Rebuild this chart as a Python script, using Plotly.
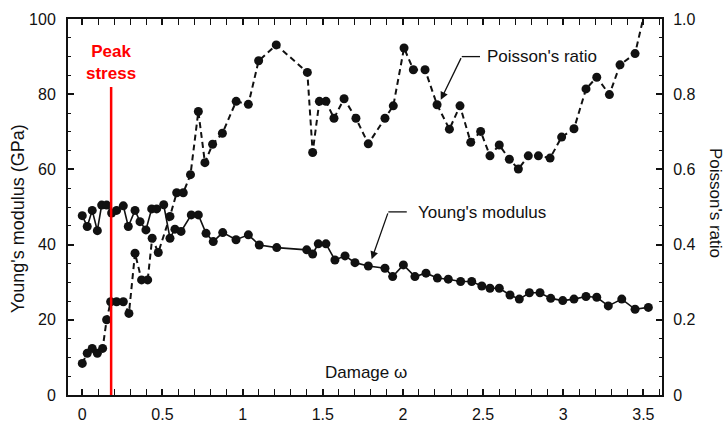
import plotly.graph_objects as go

# Young's modulus (GPa) versus damage
young_damage = [0, 0.031, 0.062, 0.094, 0.121, 0.152, 0.183, 0.214, 0.256, 0.287,
                0.329, 0.36, 0.397, 0.433, 0.464, 0.508, 0.547, 0.578, 0.616, 0.68,
                0.724, 0.772, 0.817, 0.876, 0.959, 1.036, 1.104, 1.213, 1.4, 1.437,
                1.472, 1.52, 1.576, 1.639, 1.701, 1.784, 1.888, 1.936, 2.003, 2.075,
                2.144, 2.215, 2.283, 2.36, 2.429, 2.492, 2.543, 2.601, 2.668, 2.726,
                2.789, 2.855, 2.922, 2.997, 3.067, 3.142, 3.209, 3.281, 3.365, 3.448,
                3.531]
young_modulus = [47.7, 44.8, 49.1, 43.7, 50.5, 50.5, 48.4, 49.1, 50.3, 44.8,
                 49.1, 46.1, 43.9, 49.5, 49.5, 50.6, 41.7, 44.1, 43.5, 47.9,
                 47.9, 43.0, 40.8, 43.2, 41.3, 42.6, 39.9, 39.2, 38.6, 37.5,
                 40.2, 40.2, 35.9, 37.0, 35.2, 34.3, 33.7, 31.5, 34.6, 31.5,
                 32.4, 31.1, 30.8, 30.2, 30.2, 29.0, 28.4, 28.4, 26.6, 25.5,
                 27.2, 27.2, 25.7, 25.1, 25.5, 26.2, 26.0, 23.7, 25.5, 22.8,
                 23.3]

# Poisson's ratio versus damage
poisson_damage = [0, 0.031, 0.062, 0.094, 0.127, 0.152, 0.177, 0.214, 0.256, 0.291,
                  0.329, 0.37, 0.408, 0.436, 0.474, 0.547, 0.589, 0.63, 0.675, 0.724,
                  0.765, 0.813, 0.874, 0.96, 1.036, 1.1, 1.21, 1.404, 1.437, 1.479,
                  1.52, 1.57, 1.633, 1.707, 1.784, 1.888, 1.94, 2.007, 2.065, 2.138,
                  2.213, 2.29, 2.356, 2.423, 2.485, 2.543, 2.601, 2.664, 2.72, 2.782,
                  2.845, 2.918, 2.99, 3.067, 3.142, 3.209, 3.288, 3.354, 3.448, 3.52]
poisson_ratio = [0.084, 0.111, 0.124, 0.111, 0.124, 0.2, 0.248, 0.248, 0.248, 0.217,
                 0.377, 0.306, 0.306, 0.417, 0.379, 0.475, 0.538, 0.538, 0.586, 0.754,
                 0.618, 0.667, 0.696, 0.781, 0.773, 0.889, 0.931, 0.858, 0.645, 0.781,
                 0.781, 0.736, 0.788, 0.736, 0.668, 0.736, 0.769, 0.923, 0.865, 0.865,
                 0.772, 0.707, 0.769, 0.672, 0.701, 0.636, 0.665, 0.627, 0.601, 0.636,
                 0.636, 0.63, 0.686, 0.708, 0.814, 0.845, 0.799, 0.878, 0.908, 1.04]

peak_stress_damage = 0.18

x_ticks = [0, 0.5, 1, 1.5, 2, 2.5, 3, 3.5]
x_tick_text = ["0", "0.5", "1", "1.5", "2", "2.5", "3", "3.5"]
y_ticks = [0, 20, 40, 60, 80, 100]
y2_ticks = [0, 0.2, 0.4, 0.6, 0.8, 1.0]
y2_tick_text = ["0", "0.2", "0.4", "0.6", "0.8", "1.0"]

FONT = "Liberation Sans, Arial, Helvetica, sans-serif"
INK = "#111111"

fig = go.Figure()

fig.add_trace(go.Scatter(
    x=young_damage, y=young_modulus, mode="lines+markers",
    line=dict(color=INK, width=1.6),
    marker=dict(color=INK, size=9),
    yaxis="y", showlegend=False, cliponaxis=True,
))

fig.add_trace(go.Scatter(
    x=poisson_damage, y=poisson_ratio, mode="lines+markers",
    line=dict(color=INK, width=2, dash="6px,4px"),
    marker=dict(color=INK, size=9),
    yaxis="y2", showlegend=False, cliponaxis=True,
))

axis_common = dict(
    showgrid=False, zeroline=False, showline=True, linecolor=INK, linewidth=2,
    ticks="inside", tickcolor=INK, tickwidth=1.5, ticklen=6, automargin=False,
    tickfont=dict(family=FONT, size=16, color=INK),
)

fig.update_layout(
    width=726, height=423,
    margin=dict(l=68, r=64, t=19, b=28, autoexpand=False),
    paper_bgcolor="white", plot_bgcolor="white",
    font=dict(family=FONT, color=INK),
    xaxis=dict(
        **axis_common, range=[-0.089, 3.616], tickvals=x_ticks, ticktext=x_tick_text,
        mirror="allticks", ticklabelstandoff=4,
        minor=dict(dtick=0.1, tick0=0, ticks="inside", ticklen=3, tickcolor=INK, tickwidth=1.2),
    ),
    yaxis=dict(
        **axis_common, range=[0, 100], tickvals=y_ticks, mirror=True,
        ticklabelstandoff=7,
        minor=dict(dtick=5, tick0=0, ticks="inside", ticklen=3, tickcolor=INK, tickwidth=1.2),
    ),
    yaxis2=dict(
        **axis_common, range=[0, 1], tickvals=y2_ticks, ticktext=y2_tick_text,
        overlaying="y", side="right", ticklabelstandoff=6,
        minor=dict(dtick=0.05, tick0=0, ticks="inside", ticklen=3, tickcolor=INK, tickwidth=1.2),
    ),
)

# Peak-stress marker line
fig.add_shape(type="line", xref="x", yref="y",
              x0=peak_stress_damage, x1=peak_stress_damage, y0=0, y1=81.9,
              line=dict(color="#ff0000", width=2.5))
fig.add_annotation(xref="x", yref="y", x=peak_stress_damage, y=88.5,
                   text="<b>Peak<br>stress</b>", showarrow=False,
                   font=dict(family="Liberation Sans Narrow, " + FONT, size=17, color="#ff0000"),
                   align="center")

# Series labels with bent leader lines
leaders = [
    # (text, text x, text y, horizontal end x, bend x, bend y, tip x, tip y)
    ("Poisson's ratio", 2.51, 90.05, 2.481, 2.367, 90.0, 2.236, 78.5),
    ("Young's modulus", 2.082, 48.5, 2.024, 1.909, 48.7, 1.805, 36.1),
]
for text, tx, ty, hx, bx, by, px, py in leaders:
    fig.add_shape(type="line", xref="x", yref="y", x0=hx, x1=bx, y0=by, y1=by,
                  line=dict(color=INK, width=1.3))
    fig.add_annotation(xref="x", yref="y", x=px, y=py, ax=bx, ay=by,
                       axref="x", ayref="y", text="", showarrow=True,
                       arrowhead=2, arrowsize=1.2, arrowwidth=1.3, arrowcolor=INK)
    fig.add_annotation(xref="x", yref="y", x=tx, y=ty, text=text, showarrow=False,
                       xanchor="left", yanchor="middle",
                       font=dict(family=FONT, size=17, color=INK))

# Axis titles
fig.add_annotation(xref="x", yref="y", x=1.77, y=5.9, text="Damage ω", showarrow=False,
                   font=dict(family=FONT, size=17, color=INK))
fig.add_annotation(xref="paper", yref="paper", x=-0.084, y=0.468,
                   xanchor="center", yanchor="middle",
                   text="Young's modulus (GPa)", textangle=-90, showarrow=False,
                   font=dict(family=FONT, size=18, color=INK))
fig.add_annotation(xref="paper", yref="paper", x=1.089, y=0.511,
                   xanchor="center", yanchor="middle",
                   text="Poisson's ratio", textangle=90, showarrow=False,
                   font=dict(family=FONT, size=17, color=INK))

fig.write_html("out.html")
